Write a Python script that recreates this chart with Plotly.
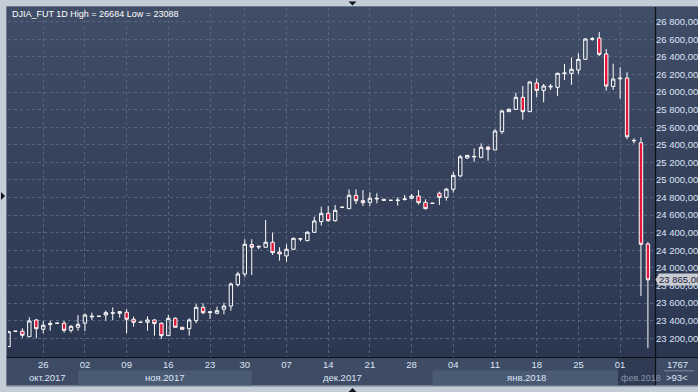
import plotly.graph_objects as go
import pandas as pd

# ---------------- data ----------------
dates = [d.strftime('%Y-%m-%d') for d in pd.date_range('2017-10-20', '2018-02-06')
         if d.weekday() != 5 and d.strftime('%Y-%m-%d') != '2017-11-23']

open_ = [
    23105, 23280, 23280, 23218, 23408, 23302, 23355, 23371, 23371, 23291,
    23325, 23371, 23443, 23450, 23465, 23490, 23484, 23496, 23416, 23382,
    23382, 23408, 23371, 23230, 23427, 23325, 23309, 23400, 23552, 23492,
    23484, 23530, 23567, 23810, 23930, 24265, 24246, 24235, 24292, 24181,
    24136, 24212, 24333, 24310, 24405, 24526, 24621, 24537, 24690, 24674,
    24826, 24765, 24746, 24785, 24781, 24769, 24772, 24778, 24792, 24818,
    24746, 24735, 24849, 24803, 24894, 25047, 25250, 25262, 25258, 25372,
    25341, 25550, 25777, 25804, 25940, 25777, 26103, 26019, 26058, 26054,
    26210, 26213, 26251, 26373, 26600, 26614, 26433, 26064, 26150, 26160,
    25445, 25424, 24272]
high = [
    23285, 23280, 23314, 23439, 23420, 23397, 23400, 23371, 23397, 23351,
    23465, 23484, 23491, 23450, 23514, 23552, 23505, 23530, 23446, 23382,
    23450, 23416, 23382, 23465, 23439, 23327, 23427, 23590, 23598, 23505,
    23560, 23605, 23833, 23957, 24326, 24326, 24252, 24545, 24401, 24235,
    24269, 24345, 24336, 24420, 24583, 24696, 24704, 24716, 24690, 24894,
    24894, 24886, 24860, 24849, 24783, 24769, 24803, 24829, 24841, 24886,
    24780, 24735, 24867, 24910, 25091, 25284, 25285, 25360, 25417, 25390,
    25577, 25796, 25815, 25993, 26069, 26126, 26156, 26092, 26092, 26221,
    26319, 26395, 26441, 26615, 26626, 26684, 26490, 26323, 26282, 26225,
    25474, 25485, 24295]
low = [
    23100, 23280, 23207, 23215, 23200, 23257, 23286, 23371, 23264, 23264,
    23286, 23283, 23408, 23450, 23400, 23408, 23434, 23257, 23332, 23382,
    23286, 23230, 23192, 23228, 23323, 23300, 23230, 23371, 23473, 23420,
    23473, 23473, 23514, 23787, 23897, 23920, 24212, 24232, 24147, 24083,
    24071, 24205, 24303, 24305, 24403, 24481, 24526, 24526, 24690, 24672,
    24727, 24704, 24704, 24735, 24760, 24769, 24708, 24765, 24780, 24720,
    24667, 24735, 24716, 24765, 24856, 25030, 25240, 25208, 25247, 25220,
    25340, 25523, 25775, 25802, 25686, 25775, 25940, 25883, 26024, 25956,
    26137, 26084, 26205, 26370, 26584, 26410, 26016, 26024, 25924, 25463,
    25417, 23681, 23088]
close = [
    23275, 23280, 23234, 23397, 23309, 23348, 23368, 23371, 23291, 23336,
    23359, 23465, 23450, 23450, 23491, 23486, 23503, 23416, 23382, 23382,
    23408, 23367, 23230, 23427, 23325, 23302, 23408, 23552, 23491, 23500,
    23514, 23567, 23818, 23931, 24269, 24235, 24240, 24292, 24174, 24158,
    24212, 24337, 24330, 24405, 24534, 24621, 24537, 24655, 24690, 24826,
    24765, 24742, 24792, 24790, 24770, 24769, 24768, 24784, 24818, 24742,
    24674, 24735, 24803, 24896, 25053, 25264, 25280, 25268, 25372, 25349,
    25557, 25785, 25804, 25940, 25777, 26114, 26019, 26069, 26065, 26213,
    26216, 26259, 26372, 26603, 26606, 26429, 26069, 26148, 26158, 25492,
    25450, 24269, 23865]

tick_dates = ['2017-10-26', '2017-11-02', '2017-11-09', '2017-11-16', '2017-11-24',
              '2017-11-30', '2017-12-07', '2017-12-14', '2017-12-21', '2017-12-28',
              '2018-01-04', '2018-01-11', '2018-01-18', '2018-01-25', '2018-02-01']
tick_text = ['26', '02', '09', '16', '23', '30', '07', '14', '21', '28',
             '04', '11', '18', '25', '01']
month_first = ['2017-10-01', '2017-11-01', '2017-12-01', '2018-01-01', '2018-02-01']
month_names = ['окт.2017', 'ноя.2017', 'дек.2017', 'янв.2018', 'фев.2018']
y_ticks = list(range(23200, 26801, 200))
y_text = ['{:,}'.format(v).replace(',', ' ') + ',00' for v in y_ticks]
title_text = 'DJIA_FUT 1D High = 26684 Low = 23088'
last_price_text = '23 865,00'
bars_total_text = '1767'
bars_visible_text = '>93<'

n = len(dates)
xi = list(range(n))


def first_index(day):
    """index of first bar on/after a date (month starting before view -> left edge)"""
    for i, d in enumerate(dates):
        if d >= day:
            return i if i > 0 or d == day else -0.5
    return n


# ---------------- geometry helpers (pixels -> paper) ----------------
W, H = 698, 392
ML, MR, MT, MB = 8, 43, 8, 35
PW, PH = W - ML - MR, H - MT - MB


def px(x):
    return (x - ML) / PW


def py(y):
    return (H - MB - y) / PH


FONT = 'Liberation Sans, Arial, sans-serif'
TXT = '#dce6f6'

fig = go.Figure()
fig.add_trace(go.Candlestick(
    x=xi, open=open_, high=high, low=low, close=close,
    increasing=dict(line=dict(color='#ffffff', width=1), fillcolor='rgba(0,0,0,0)'),
    decreasing=dict(line=dict(color='#ffffff', width=1), fillcolor='#e3163b'),
    whiskerwidth=0, hoverinfo='skip', showlegend=False))

shapes = []
# gradient panel background
top_c = (0x40, 0x4d, 0x67)
bot_c = (0x2b, 0x36, 0x50)
NB = 35
for k in range(NB):
    t = (k + 0.5) / NB
    c = tuple(int(round(top_c[j] + (bot_c[j] - top_c[j]) * t)) for j in range(3))
    y0 = 7 + (357 - 7) * k / NB
    y1 = 7 + (357 - 7) * (k + 1) / NB
    shapes.append(dict(type='rect', xref='paper', yref='paper', layer='below',
                       x0=px(7), x1=px(W + 2), y0=py(y1 + 0.5), y1=py(y0),
                       fillcolor='rgb(%d,%d,%d)' % c, line=dict(width=0)))
# x-axis band
shapes.append(dict(type='rect', xref='paper', yref='paper', layer='below',
                   x0=px(7), x1=px(W + 2), y0=py(385.5), y1=py(357),
                   fillcolor='#3e4b64', line=dict(width=0)))
# month bands (every other month lighter)
bounds = [first_index(m) for m in month_first] + [n + 1]
for k in range(len(month_first) - 1):
    if k % 2 == 1:
        shapes.append(dict(type='rect', xref='x', yref='paper', layer='below',
                           x0=bounds[k], x1=bounds[k + 1], y0=py(385.5), y1=py(370.5),
                           fillcolor='#4b5a73', line=dict(width=0)))
# current-month dark column
shapes.append(dict(type='rect', xref='x', yref='paper', layer='below',
                   x0=bounds[4] - 0.3, x1=n + 1, y0=py(385.5), y1=py(357.5),
                   fillcolor='#2f3a53', line=dict(width=0)))
# separator lines
shapes.append(dict(type='line', xref='paper', yref='paper', x0=px(655.5), x1=px(655.5),
                   y0=py(385.5), y1=py(7), line=dict(color='#0b0f18', width=1.2)))
shapes.append(dict(type='line', xref='paper', yref='paper', x0=px(7), x1=px(W + 2),
                   y0=py(357.5), y1=py(357.5), line=dict(color='#0b0f18', width=1.2)))
# frame edge
shapes.append(dict(type='rect', xref='paper', yref='paper', x0=px(6.5), x1=px(W + 3),
                   y0=py(386), y1=py(6.5), line=dict(color='#6f7a8c', width=1)))
# small separator in bar counter box
shapes.append(dict(type='line', xref='paper', yref='paper', x0=px(664), x1=px(694),
                   y0=py(370.8), y1=py(370.8), line=dict(color='#7d8aa2', width=1)))
# scroll triangles
shapes.append(dict(type='path', xref='paper', yref='paper',
                   path='M %f %f L %f %f L %f %f Z' % (px(348.5), py(1.5), px(356.5), py(1.5), px(352.5), py(5.5)),
                   fillcolor='#10141c', line=dict(width=0)))
shapes.append(dict(type='path', xref='paper', yref='paper',
                   path='M %f %f L %f %f L %f %f Z' % (px(348.5), py(392), px(356.5), py(392), px(352.5), py(388)),
                   fillcolor='#10141c', line=dict(width=0)))
shapes.append(dict(type='path', xref='paper', yref='paper',
                   path='M %f %f L %f %f L %f %f Z' % (px(1), py(192), px(1), py(200), px(5), py(196)),
                   fillcolor='#10141c', line=dict(width=0)))
# last price marker arrow
shapes.append(dict(type='path', xref='paper', yref='y',
                   path='M %f %f L %f %f L %f %f Z' % (px(655.5), close[-1], px(659), close[-1] + 70,
                                                       px(659), close[-1] - 70),
                   fillcolor='#c8cbd2', line=dict(width=0)))

annotations = [
    dict(text=title_text, xref='paper', yref='paper', x=px(10), y=py(14), xanchor='left',
         yanchor='middle', showarrow=False, font=dict(family=FONT, size=9, color='#ffffff')),
    dict(text=last_price_text, xref='paper', yref='y', x=px(658), y=close[-1], xanchor='left',
         yanchor='middle', showarrow=False, bgcolor='#c8cbd2', borderpad=0,
         font=dict(family=FONT, size=9.5, color='#1b2436')),
    dict(text=bars_total_text, xref='paper', yref='paper', x=px(677), y=py(364.5),
         xanchor='center', yanchor='middle', showarrow=False,
         font=dict(family=FONT, size=9.5, color=TXT)),
    dict(text=bars_visible_text, xref='paper', yref='paper', x=px(677), y=py(377.5),
         xanchor='center', yanchor='middle', showarrow=False,
         font=dict(family=FONT, size=9.5, color=TXT)),
]
for k in range(len(month_first)):
    a, b = bounds[k], bounds[k + 1]
    if k == 0:
        # month started before the visible range: centre on its visible dates
        xc, anchor = 5.6, 'center'
    elif k == len(month_first) - 1:
        xc, anchor = a - 0.2, 'left'
    else:
        xc, anchor = (a + b) / 2, 'center'
    annotations.append(dict(text=month_names[k], xref='x', yref='paper', x=xc,
                            y=py(377.5), xanchor=anchor, yanchor='middle', showarrow=False,
                            font=dict(family=FONT, size=9.5 if k < 4 else 9,
                                      color=TXT if k < 4 else '#8997b0')))

fig.update_layout(
    width=W, height=H,
    margin=dict(l=ML, r=MR, t=MT, b=MB, autoexpand=False),
    paper_bgcolor='#c4ccd8', plot_bgcolor='rgba(0,0,0,0)',
    shapes=shapes, annotations=annotations, showlegend=False,
    boxgap=0.3,
    xaxis=dict(range=[-0.07, 93.02], rangeslider=dict(visible=False),
               tickvals=[dates.index(d) for d in tick_dates], ticktext=tick_text,
               showgrid=True, gridcolor='#56647e', griddash='3px,3px', gridwidth=1,
               zeroline=False, showline=False, ticks='',
               tickfont=dict(family=FONT, size=9.5, color=TXT)),
    yaxis=dict(range=[22987, 26956], side='right', tickvals=y_ticks, ticktext=y_text,
               showgrid=True, gridcolor='#56647e', griddash='3px,3px', gridwidth=1,
               zeroline=False, showline=False, ticks='',
               tickfont=dict(family=FONT, size=9.5, color=TXT)),
)

fig.write_html('out.html', config={'displayModeBar': False},
               post_script="document.body.style.margin='0px';document.body.style.overflow='hidden';")
